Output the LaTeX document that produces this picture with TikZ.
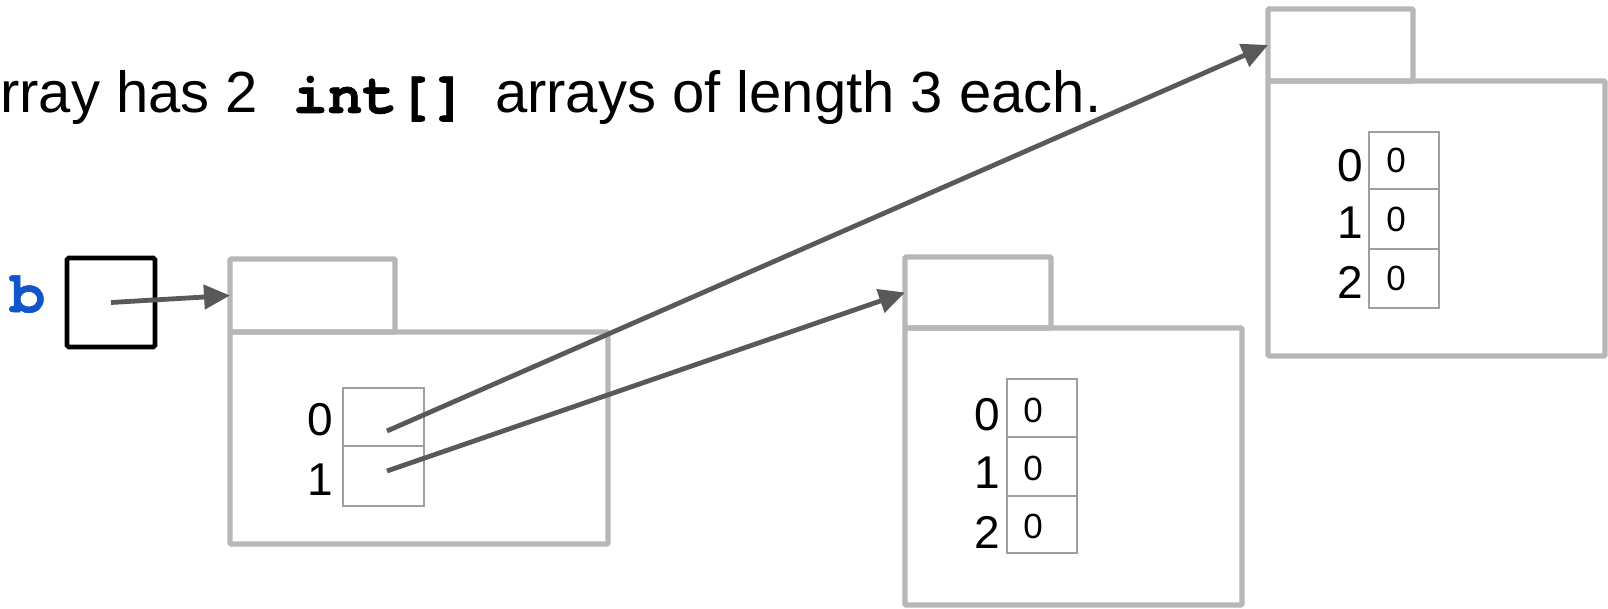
\documentclass[tikz,border=0pt]{standalone}
\usepackage{fontspec}
\setmainfont{Liberation Sans}
\setmonofont{texgyrecursor}[Extension=.otf, UprightFont=*-regular, BoldFont=*-bold, BoldFeatures={FakeBold=1.2}]
\usetikzlibrary{arrows.meta}
\definecolor{framegray}{HTML}{B7B7B7}
\definecolor{cellgray}{HTML}{9E9E9E}
\definecolor{arrowgray}{HTML}{595959}
\definecolor{varblue}{HTML}{1155CC}
\begin{document}
\begin{tikzpicture}[x=0.75pt,y=-0.75pt,
  frame/.style={draw=framegray, line width=3.8pt, inner sep=0pt, outer sep=0pt, rounded corners=0.8pt},
  cell/.style={draw=cellgray, line width=2pt, inner sep=0pt, outer sep=0pt},
  varbox/.style={draw=black, line width=3.5pt, inner sep=0pt, outer sep=0pt, rounded corners=1.2pt, minimum width=66pt, minimum height=66.75pt},
  varname/.style={font=\fontsize{44pt}{50pt}\selectfont\ttfamily\bfseries, text=varblue, inner sep=0pt},
  idx/.style={font=\fontsize{34.5pt}{40pt}\selectfont, anchor=base, inner sep=0pt},
  val/.style={font=\fontsize{26.25pt}{30pt}\selectfont, anchor=base, inner sep=0pt},
  ptr/.style={draw=arrowgray, line width=3.6pt, -{Triangle[length=19.5pt, width=18pt]}}
]
\useasboundingbox (0,0) rectangle (1608,609);

% title
\node[anchor=base west, inner sep=0pt, font=\fontsize{43.5pt}{50pt}\selectfont] (title) at (0,113)
  {rray has 2\texttt{\bfseries{} int[] }\hspace{-5pt}arrays of length 3 each.};

% variable b
\node[varname, anchor=base] (bname) at (27.5,312) {b};
\node[varbox] (varb) at (111,302.5) {};

% object 1 (outer array)
\node[frame, minimum width=123.75pt, minimum height=54.75pt] (tab1) at (312.5,295.5) {};
\node[frame, minimum width=283.5pt, minimum height=159pt] (body1) at (419,438) {};
\node[cell, minimum width=60.75pt, minimum height=43.5pt] (c10) at (383.5,417) {};
\node[cell, minimum width=60.75pt, minimum height=45pt] (c11) at (383.5,476) {};
\node[idx] (i10) at (320,435) {0};
\node[idx] (i11) at (320,495) {1};

% object 2
\node[frame, minimum width=109.5pt, minimum height=53.25pt] (tab2) at (978,292.5) {};
\node[frame, minimum width=252.75pt, minimum height=207.75pt] (body2) at (1073.5,466.5) {};
\node[cell, minimum width=52.5pt, minimum height=43.5pt] (c20) at (1042,408) {};
\node[cell, minimum width=52.5pt, minimum height=44.25pt] (c21) at (1042,466.5) {};
\node[cell, minimum width=52.5pt, minimum height=42.75pt] (c22) at (1042,524.5) {};
\node[idx] (i20) at (987,430) {0};
\node[idx] (i21) at (987,488) {1};
\node[idx] (i22) at (987,548) {2};
\node[val] (v20) at (1033,422) {0};
\node[val] (v21) at (1033,480) {0};
\node[val] (v22) at (1033,538) {0};

% object 3
\node[frame, minimum width=108.75pt, minimum height=54pt] (tab3) at (1340.5,45) {};
\node[frame, minimum width=252.75pt, minimum height=206.25pt] (body3) at (1436.5,218.5) {};
\node[cell, minimum width=52.5pt, minimum height=42.75pt] (c30) at (1404,160.5) {};
\node[cell, minimum width=52.5pt, minimum height=45pt] (c31) at (1404,219) {};
\node[cell, minimum width=52.5pt, minimum height=44.25pt] (c32) at (1404,278.5) {};
\node[idx] (i30) at (1350,182) {0};
\node[idx] (i31) at (1350,239) {1};
\node[idx] (i32) at (1350,299) {2};
\node[val] (v30) at (1396,173) {0};
\node[val] (v31) at (1396,232) {0};
\node[val] (v32) at (1396,291) {0};

% pointers
\coordinate (s0) at (387,431);
\coordinate (s1) at (387,471);
\draw[ptr] (varb.center) -- (tab1.west);
\draw[ptr] (s0) -- (tab3.west);
\draw[ptr] (s1) -- (tab2.west);
\end{tikzpicture}
\end{document}
